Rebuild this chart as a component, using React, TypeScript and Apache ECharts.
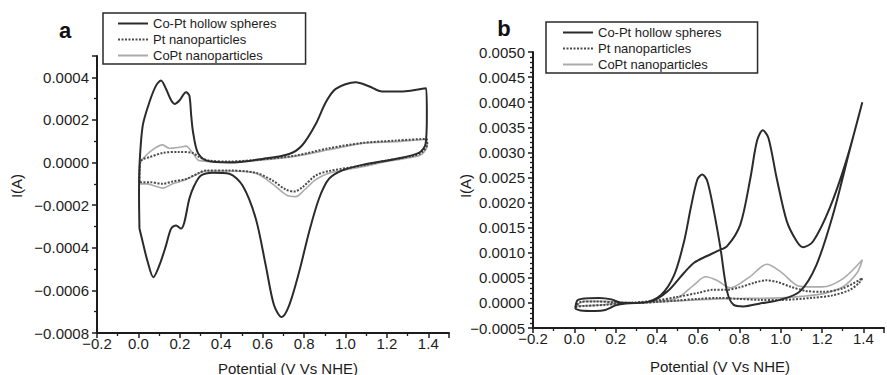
import React, { useEffect, useRef } from "react";
import * as echarts from "echarts";

// ---------- Panel a data (Potential V, Current A) ----------
const aHollowV = [0.005, 0.003, 0.006, 0.021, 0.053, 0.085, 0.109, 0.133, 0.158, 0.175, 0.198, 0.23, 0.246, 0.255, 0.264, 0.286, 0.326, 0.44, 0.6, 0.728, 0.79, 0.856, 0.905, 0.953, 1.05, 1.113, 1.177, 1.274, 1.39, 1.393, 1.387, 1.354, 1.242, 1.081, 0.985, 0.92, 0.872, 0.824, 0.776, 0.728, 0.692, 0.655, 0.615, 0.567, 0.503, 0.439, 0.358, 0.302, 0.27, 0.246, 0.222, 0.206, 0.182, 0.158, 0.133, 0.101, 0.072, 0.045, 0.021, 0.005];
const aHollowI = [-0.00031, -0.00015, 0.0, 0.000174, 0.000283, 0.000361, 0.000385, 0.000346, 0.000292, 0.000275, 0.000291, 0.00033, 0.000314, 0.00022, 0.000142, 0.000048, 0.00001, 0.0, 0.000017, 0.00004, 0.00008, 0.00018, 0.000283, 0.000346, 0.000377, 0.000358, 0.000333, 0.000333, 0.000349, 0.00022, 0.000088, 0.000045, 0.000017, -0.000011, -0.000037, -0.000077, -0.00017, -0.000327, -0.000514, -0.00067, -0.000725, -0.00067, -0.000483, -0.000264, -0.000108, -0.000053, -0.000048, -0.000061, -0.000108, -0.00017, -0.00028, -0.00031, -0.000295, -0.00031, -0.00039, -0.000483, -0.000538, -0.000467, -0.000374, -0.00031];

const aPtV = [0.005, 0.008, 0.021, 0.053, 0.117, 0.197, 0.262, 0.294, 0.342, 0.438, 0.6, 0.76, 0.92, 1.081, 1.241, 1.391, 1.395, 1.37, 1.322, 1.2, 1.081, 0.92, 0.856, 0.792, 0.752, 0.712, 0.647, 0.567, 0.438, 0.326, 0.294, 0.23, 0.165, 0.117, 0.053, 0.013, 0.005];
const aPtI = [-0.00009, 0.0, 0.000015, 0.000025, 0.000045, 0.00005, 0.000045, 0.000025, 0.000009, 0.000005, 0.000015, 0.000033, 0.000067, 0.000092, 0.000103, 0.000111, 0.000088, 0.000048, 0.00003, 0.00001, -0.000014, -0.00004, -0.000061, -0.000116, -0.000136, -0.000127, -0.000084, -0.000048, -0.0000375, -0.0000375, -0.000048, -0.000077, -0.000089, -0.0001, -0.000092, -0.000092, -0.00009];

const aCoPtV = [0.005, 0.01, 0.021, 0.063, 0.117, 0.149, 0.2, 0.23, 0.262, 0.294, 0.438, 0.6, 0.76, 0.92, 1.081, 1.241, 1.391, 1.395, 1.37, 1.322, 1.2, 1.081, 0.92, 0.856, 0.8, 0.76, 0.72, 0.647, 0.567, 0.438, 0.326, 0.294, 0.23, 0.165, 0.117, 0.08, 0.04, 0.005];
const aCoPtI = [-0.0001, 0.0, 0.000017, 0.000056, 0.000083, 0.000067, 0.000072, 0.000077, 0.000045, 0.000009, 0.000003, 0.000012, 0.00003, 0.00006, 0.00009, 0.000098, 0.000108, 0.00008, 0.00004, 0.000025, 0.000005, -0.00002, -0.00005, -0.00008, -0.00013, -0.00016, -0.000155, -0.0001, -0.00005, -0.00004, -0.00004, -0.00005, -0.00008, -0.0001, -0.00012, -0.00011, -0.0001, -0.0001];

// ---------- Panel b data ----------
const bHollowV = [0.005, 0.03, 0.1, 0.15, 0.2, 0.25, 0.372, 0.452, 0.532, 0.58, 0.64, 0.692, 0.74, 0.804, 0.853, 0.885, 0.913, 0.94, 0.98, 1.029, 1.077, 1.109, 1.157, 1.237, 1.317, 1.395, 1.333, 1.253, 1.173, 1.093, 0.997, 0.9, 0.82, 0.772, 0.74, 0.708, 0.676, 0.644, 0.62, 0.596, 0.564, 0.532, 0.484, 0.42, 0.34, 0.228, 0.18, 0.12, 0.05, 0.015, 0.005];
const bHollowI = [-0.00012, -0.00015, -0.00016, -0.00014, -0.00005, -0.00001, 0.00003, 0.00023, 0.0006, 0.0008, 0.00093, 0.00103, 0.00113, 0.00156, 0.00249, 0.00323, 0.00344, 0.00329, 0.00249, 0.00163, 0.00123, 0.00111, 0.00123, 0.00189, 0.00283, 0.004, 0.00303, 0.00176, 0.00076, 0.00023, 0.00006, -0.00001, -0.00007, -0.00004, 0.00023, 0.00109, 0.00183, 0.00243, 0.00256, 0.00246, 0.00189, 0.00123, 0.00056, 0.00016, 0.00001, 0.0, 0.00007, 0.0001, 0.00009, 0.00005, -0.00012];

const bPtV = [0.005, 0.05, 0.15, 0.22, 0.3, 0.4, 0.5, 0.6, 0.67, 0.73, 0.8, 0.87, 0.93, 0.98, 1.05, 1.12, 1.2, 1.3, 1.395, 1.38, 1.33, 1.25, 1.15, 1.0, 0.9, 0.8, 0.7, 0.6, 0.5, 0.4, 0.3, 0.2, 0.1, 0.03, 0.005];
const bPtI = [-0.00008, -0.00006, -0.00004, -0.00001, 0.00001, 0.00005, 0.00012, 0.0002, 0.00026, 0.00026, 0.00031, 0.0004, 0.00045, 0.00042, 0.00032, 0.00024, 0.00022, 0.00029, 0.00049, 0.0004, 0.00025, 0.00015, 0.0001, 0.00006, 0.00006, 0.00008, 0.0001, 0.00008, 0.00005, 0.00002, 0.0, 0.00001, 0.00003, 0.00002, -0.00008];

const bCoPtV = [0.005, 0.1, 0.2, 0.3, 0.4, 0.5, 0.58, 0.636, 0.69, 0.756, 0.85, 0.933, 1.0, 1.093, 1.2, 1.3, 1.395, 1.37, 1.3, 1.2, 1.1, 1.0, 0.85, 0.7, 0.5, 0.3, 0.15, 0.05, 0.005];
const bCoPtI = [-0.00006, -0.00005, -0.00001, 0.0, 0.00003, 0.0001, 0.00036, 0.00052, 0.00045, 0.0003, 0.00052, 0.00077, 0.00062, 0.00033, 0.00032, 0.00048, 0.00086, 0.0006, 0.00032, 0.00018, 0.00013, 0.0001, 0.00009, 0.00008, 0.00004, 0.0, 0.00003, 0.00003, -0.00006];

const seriesNames = ["Co-Pt hollow spheres", "Pt nanoparticles", "CoPt nanoparticles"];
const xTickInterval = 0.2;
const aYInterval = 0.0002;
const bYInterval = 0.0005;

const zip = (xs: number[], ys: number[]) => xs.map((x, i) => [x, ys[i]]);

const FONT = '"Liberation Sans", Arial, Helvetica, sans-serif';
const INK = "#1c1c1c";

const isMult = (v: number, step: number) => Math.abs(v / step - Math.round(v / step)) < 1e-6;
const fmt = (v: number, d: number) => {
  const s = Math.abs(v) < 1e-12 ? (0).toFixed(d) : v.toFixed(d);
  return s.replace("-", "\u2212");
};

const styles = [
  { color: "#2b2b2b", width: 2, type: "solid" as any },
  { color: "#4a4a4a", width: 2, type: [2, 1.5] as any },
  { color: "#ababab", width: 1.6, type: "solid" as any },
];

function axisCommon() {
  return {
    axisLine: { show: true, onZero: false, lineStyle: { color: INK, width: 2 } },
    axisTick: { show: true, inside: false, length: 5, lineStyle: { color: INK, width: 1.5 } },
    minorTick: { show: true, length: 3, lineStyle: { color: INK, width: 1.3 } },
    splitLine: { show: false },
    minorSplitLine: { show: false },
  };
}

export default function App() {
  const ref = useRef<HTMLDivElement>(null);
  useEffect(() => {
    if (!ref.current) return;
    const chart = echarts.init(ref.current, undefined, { renderer: "svg" });

    const mk = (name: string, data: number[][], idx: number, k: number) => ({
      name,
      type: "line",
      xAxisIndex: idx,
      yAxisIndex: idx,
      data,
      showSymbol: false,
      symbol: "none",
      smooth: 0.3,
      lineStyle: { ...styles[k] },
      itemStyle: { color: styles[k].color },
      z: 10 - k,
    });

    const legendCommon = {
      orient: "vertical",
      data: seriesNames,
      borderColor: "#2a2a2a",
      borderWidth: 1.5,
      itemWidth: 30,
      itemHeight: 14,
      itemGap: 1,
      itemStyle: { opacity: 0 },
      textStyle: { fontSize: 13, lineHeight: 15, color: INK, fontFamily: FONT },
      selectedMode: false,
    };

    const option: any = {
      animation: false,
      backgroundColor: "#ffffff",
      textStyle: { fontFamily: FONT },
      grid: [
        { left: 97, top: 56, width: 352, height: 277 },
        { left: 533, top: 52, width: 353, height: 276 },
      ],
      legend: [
        { ...legendCommon, left: 103, top: 13, padding: [3, 29, 1, 14] },
        { ...legendCommon, left: 546, top: 22, padding: [3, 36, 1, 16] },
      ],
      xAxis: [0, 1].map((g) => ({
        type: "value",
        gridIndex: g,
        min: -0.2,
        max: 1.5,
        interval: xTickInterval,
        ...axisCommon(),
        minorTick: { ...axisCommon().minorTick, splitNumber: 2 },
        axisLabel: {
          fontSize: 15,
          color: INK,
          fontFamily: FONT,
          margin: 3,
          formatter: (v: number) => (isMult(v, xTickInterval) && v < 1.45 ? fmt(v, 1) : ""),
        },
      })),
      yAxis: [
        {
          type: "value",
          gridIndex: 0,
          min: -0.0008,
          max: 0.0005,
          interval: aYInterval,
          ...axisCommon(),
          minorTick: { ...axisCommon().minorTick, splitNumber: 2 },
          axisLabel: {
            fontSize: 15,
            color: INK,
            fontFamily: FONT,
            margin: 8,
            formatter: (v: number) => (isMult(v, aYInterval) && v < 0.00045 ? fmt(v, 4) : ""),
          },
        },
        {
          type: "value",
          gridIndex: 1,
          min: -0.0005,
          max: 0.005,
          interval: bYInterval,
          ...axisCommon(),
          minorTick: { ...axisCommon().minorTick, splitNumber: 5 },
          axisLabel: {
            fontSize: 15,
            color: INK,
            fontFamily: FONT,
            margin: 8,
            formatter: (v: number) => fmt(v, 4),
          },
        },
      ],
      graphic: [
        { type: "text", x: 65, y: 30, style: { text: "a", fontSize: 22, fontWeight: "bold", fontFamily: FONT, fill: "#111", align: "center", verticalAlign: "middle" } },
        { type: "text", x: 504, y: 28, style: { text: "b", fontSize: 22, fontWeight: "bold", fontFamily: FONT, fill: "#111", align: "center", verticalAlign: "middle" } },
        { type: "text", x: 16, y: 186, rotation: Math.PI / 2, style: { text: "I(A)", fontSize: 15, fontFamily: FONT, fill: INK, align: "center", verticalAlign: "middle" } },
        { type: "text", x: 465, y: 186, rotation: Math.PI / 2, style: { text: "I(A)", fontSize: 15, fontFamily: FONT, fill: INK, align: "center", verticalAlign: "middle" } },
        { type: "text", x: 288, y: 368, style: { text: "Potential (V Vs NHE)", fontSize: 15, fontFamily: FONT, fill: INK, align: "center", verticalAlign: "middle" } },
        { type: "text", x: 720, y: 366, style: { text: "Potential (V Vs NHE)", fontSize: 15, fontFamily: FONT, fill: INK, align: "center", verticalAlign: "middle" } },
      ],
      series: [
        mk(seriesNames[2], zip(aCoPtV, aCoPtI), 0, 2),
        mk(seriesNames[1], zip(aPtV, aPtI), 0, 1),
        mk(seriesNames[0], zip(aHollowV, aHollowI), 0, 0),
        mk(seriesNames[2], zip(bCoPtV, bCoPtI), 1, 2),
        mk(seriesNames[1], zip(bPtV, bPtI), 1, 1),
        mk(seriesNames[0], zip(bHollowV, bHollowI), 1, 0),
      ],
    };
    chart.setOption(option);
    return () => chart.dispose();
  }, []);

  return (
    <div
      ref={ref}
      style={{ position: "fixed", left: 0, top: 0, width: 887, height: 375, background: "#fff" }}
    />
  );
}
